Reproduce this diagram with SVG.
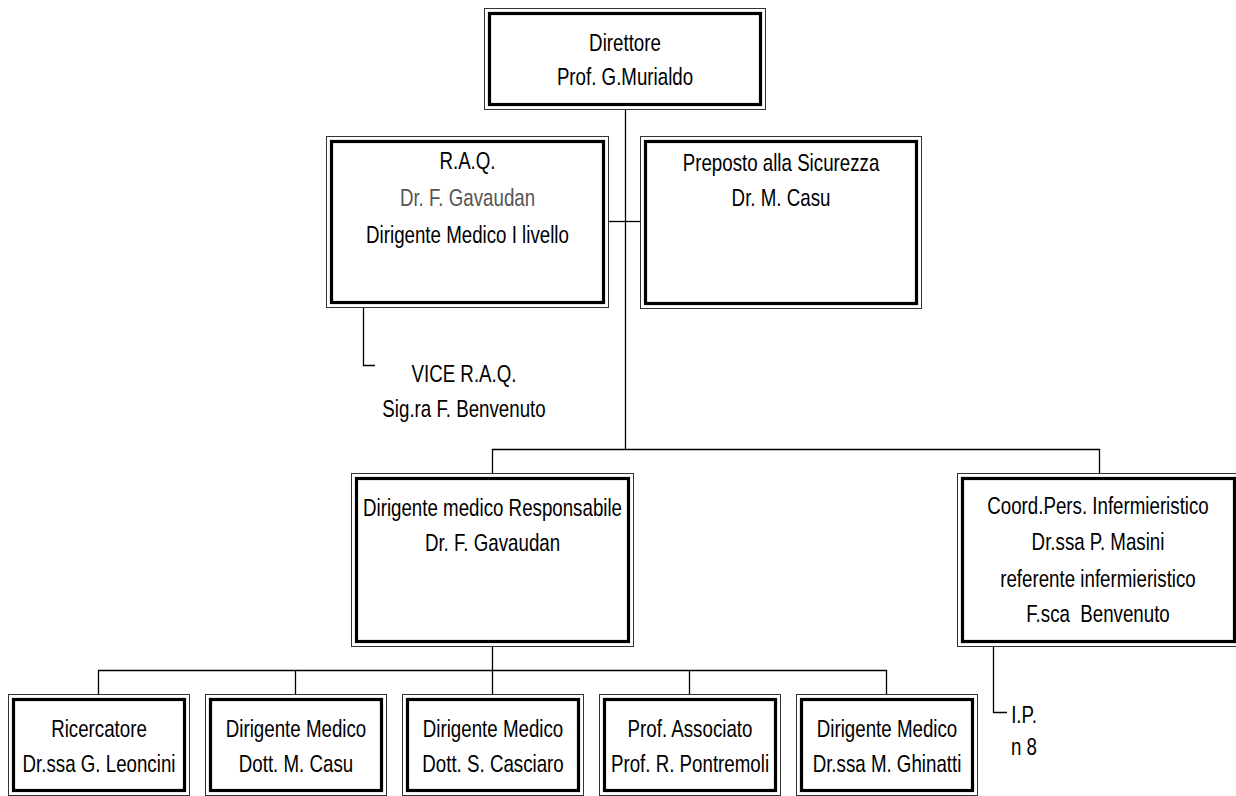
<svg xmlns="http://www.w3.org/2000/svg" width="1236" height="796" viewBox="0 0 1236 796">
<style>
  .outer{fill:#fff;stroke:#333;stroke-width:1}
  .inner{fill:none;stroke:#000;stroke-width:3.2}
  .t{font-family:"Liberation Sans",Arial,sans-serif;font-size:24px;fill:#000;text-anchor:middle}
  .g{fill:#555}
  .c{fill:none;stroke:#000;stroke-width:1.3}
</style>
<rect width="1236" height="796" fill="#fff"/>
<g id="connectors">
  <path class="c" d="M625.5,110 V449"/>
  <path class="c" d="M609,221.5 H640"/>
  <path class="c" d="M492.5,473 V449.5 H1099.5 V473"/>
  <path class="c" d="M363.5,308 V365.5 H375"/>
  <path class="c" d="M492.5,647 V670.5"/>
  <path class="c" d="M98.5,694 V670.5 H886.5 V694"/>
  <path class="c" d="M295.5,670.5 V694"/>
  <path class="c" d="M492.5,670.5 V694"/>
  <path class="c" d="M689.5,670.5 V694"/>
  <path class="c" d="M993.5,647 V712.5 H1007"/>
</g>
<g id="direttore">
  <rect class="outer" x="484.5" y="8.5" width="281" height="101"/>
  <rect class="inner" x="489.5" y="13.5" width="271" height="91"/>
  <g transform="translate(625,0) scale(0.78,1)">
    <text class="t" x="0" y="51">Direttore</text>
    <text class="t" x="0" y="85">Prof. G.Murialdo</text>
  </g>
</g>
<g id="raq">
  <rect class="outer" x="326.5" y="136.5" width="282" height="171"/>
  <rect class="inner" x="331.5" y="141.5" width="272" height="161"/>
  <g transform="translate(467.5,0) scale(0.78,1)">
    <text class="t" x="0" y="169">R.A.Q.</text>
    <text class="t g" x="0" y="206">Dr. F. Gavaudan</text>
    <text class="t" x="0" y="243">Dirigente Medico I livello</text>
  </g>
</g>
<g id="preposto">
  <rect class="outer" x="640.5" y="136.5" width="281" height="172"/>
  <rect class="inner" x="645.5" y="141.5" width="271" height="162"/>
  <g transform="translate(781,0) scale(0.78,1)">
    <text class="t" x="0" y="171">Preposto alla Sicurezza</text>
    <text class="t" x="0" y="206">Dr. M. Casu</text>
  </g>
</g>
<g id="vice">
  <g transform="translate(464,0) scale(0.78,1)">
    <text class="t" x="0" y="382">VICE R.A.Q.</text>
    <text class="t" x="0" y="417">Sig.ra F. Benvenuto</text>
  </g>
</g>
<g id="dirigente-resp">
  <rect class="outer" x="351.5" y="473.5" width="282" height="173"/>
  <rect class="inner" x="356.5" y="478.5" width="272" height="163"/>
  <g transform="translate(492.5,0) scale(0.78,1)">
    <text class="t" x="0" y="516">Dirigente medico Responsabile</text>
    <text class="t" x="0" y="551">Dr. F. Gavaudan</text>
  </g>
</g>
<g id="coord">
  <rect class="outer" x="957.5" y="473.5" width="282" height="173"/>
  <rect class="inner" x="962.5" y="478.5" width="272" height="163"/>
  <g transform="translate(1098,0) scale(0.78,1)">
    <text class="t" x="0" y="514">Coord.Pers. Infermieristico</text>
    <text class="t" x="0" y="550">Dr.ssa P. Masini</text>
    <text class="t" x="0" y="587">referente infermieristico</text>
    <text class="t" x="0" y="622" xml:space="preserve">F.sca  Benvenuto</text>
  </g>
</g>
<g id="ip">
  <g transform="translate(1024,0) scale(0.78,1)">
    <text class="t" x="0" y="723">I.P.</text>
    <text class="t" x="0" y="755">n 8</text>
  </g>
</g>
<g id="ricercatore">
  <rect class="outer" x="8.5" y="694.5" width="181" height="101"/>
  <rect class="inner" x="13.5" y="699.5" width="171" height="91"/>
  <g transform="translate(99,0) scale(0.78,1)">
    <text class="t" x="0" y="737">Ricercatore</text>
    <text class="t" x="0" y="772">Dr.ssa G. Leoncini</text>
  </g>
</g>
<g id="casu">
  <rect class="outer" x="205.5" y="694.5" width="181" height="101"/>
  <rect class="inner" x="210.5" y="699.5" width="171" height="91"/>
  <g transform="translate(296,0) scale(0.78,1)">
    <text class="t" x="0" y="737">Dirigente Medico</text>
    <text class="t" x="0" y="772">Dott. M. Casu</text>
  </g>
</g>
<g id="casciaro">
  <rect class="outer" x="402.5" y="694.5" width="181" height="101"/>
  <rect class="inner" x="407.5" y="699.5" width="171" height="91"/>
  <g transform="translate(493,0) scale(0.78,1)">
    <text class="t" x="0" y="737">Dirigente Medico</text>
    <text class="t" x="0" y="772">Dott. S. Casciaro</text>
  </g>
</g>
<g id="pontremoli">
  <rect class="outer" x="599.5" y="694.5" width="181" height="101"/>
  <rect class="inner" x="604.5" y="699.5" width="171" height="91"/>
  <g transform="translate(690,0) scale(0.78,1)">
    <text class="t" x="0" y="737">Prof. Associato</text>
    <text class="t" x="0" y="772">Prof. R. Pontremoli</text>
  </g>
</g>
<g id="ghinatti">
  <rect class="outer" x="796.5" y="694.5" width="181" height="101"/>
  <rect class="inner" x="801.5" y="699.5" width="171" height="91"/>
  <g transform="translate(887,0) scale(0.78,1)">
    <text class="t" x="0" y="737">Dirigente Medico</text>
    <text class="t" x="0" y="772">Dr.ssa M. Ghinatti</text>
  </g>
</g>
</svg>
